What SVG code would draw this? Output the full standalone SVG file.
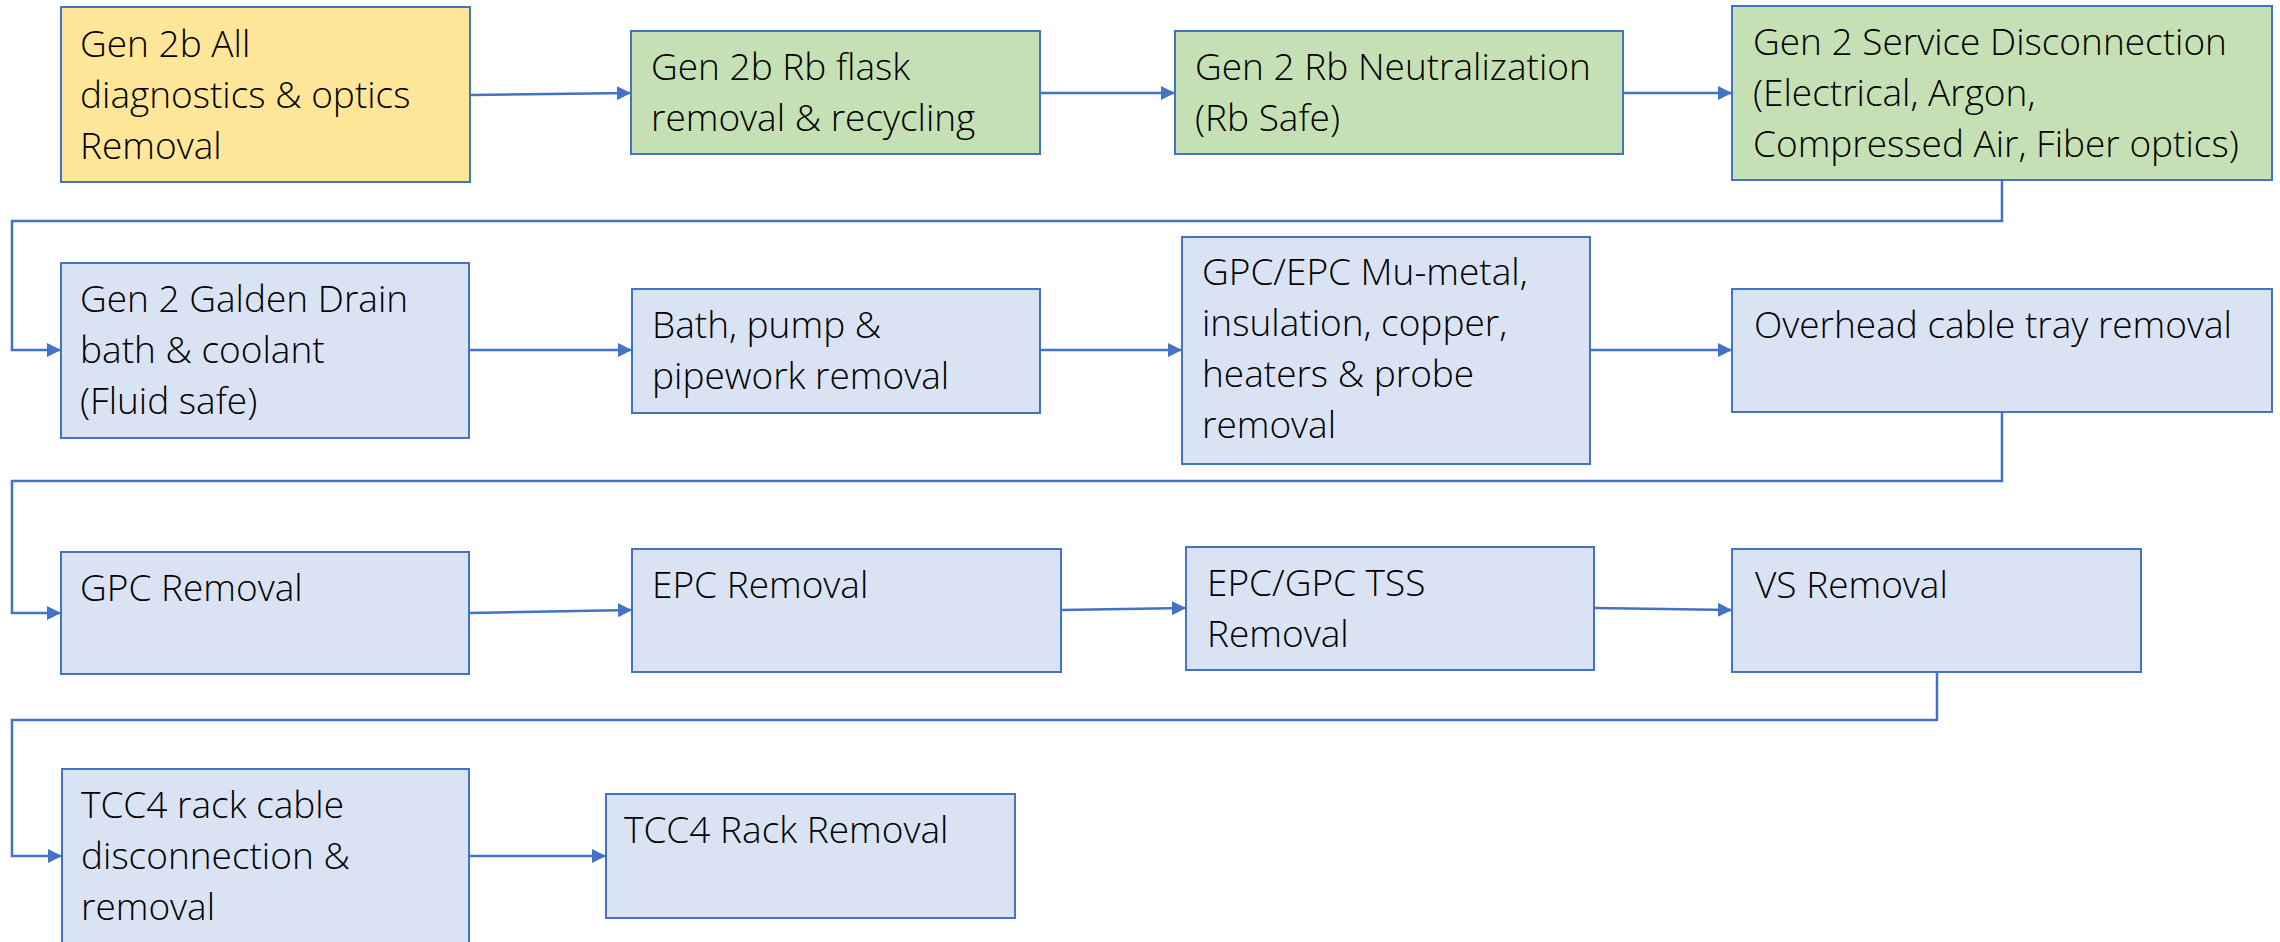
<svg xmlns="http://www.w3.org/2000/svg" width="2280" height="942" viewBox="0 0 2280 942">
<style>
  .box { stroke: #4472C4; stroke-width: 2; }
  .y { fill: #FFE699; }
  .g { fill: #C5E0B4; }
  .b { fill: #DAE3F3; }
  .t { font-family: "Open Sans", "Lato", "Liberation Sans", sans-serif; font-size: 37px; font-weight: 300; fill: #000; }
  .c { fill: none; stroke: #4472C4; stroke-width: 2.5; marker-end: url(#arr); }
</style>
<defs>
  <marker id="arr" markerUnits="userSpaceOnUse" markerWidth="14" markerHeight="14" refX="14" refY="7" orient="auto">
    <path d="M0,0 L14,7 L0,14 z" fill="#4472C4"/>
  </marker>
</defs>
<rect width="2280" height="942" fill="#fff"/>
<g id="connectors">
  <path class="c" d="M470,95 L631,93"/>
  <path class="c" d="M1040,93 L1175,93"/>
  <path class="c" d="M1623,93 L1732,93"/>
  <path class="c" d="M2002,180 V221 H12 V350 H61"/>
  <path class="c" d="M469,350 L632,350"/>
  <path class="c" d="M1040,350 L1182,350"/>
  <path class="c" d="M1590,350 L1732,350"/>
  <path class="c" d="M2002,412 V481 H12 V613 H61"/>
  <path class="c" d="M469,613 L632,610"/>
  <path class="c" d="M1061,610 L1186,608"/>
  <path class="c" d="M1594,608 L1732,610"/>
  <path class="c" d="M1937,672 V720 H12 V856 H62"/>
  <path class="c" d="M469,856 L606,856"/>
</g>
<g id="n1"><rect class="box y" x="61" y="7" width="409" height="175"/>
  <text class="t" x="80" y="57">Gen 2b All</text><text class="t" x="80" y="108">diagnostics &amp; optics</text><text class="t" x="80" y="159">Removal</text></g>
<g id="n2"><rect class="box g" x="631" y="31" width="409" height="123"/>
  <text class="t" x="651" y="80">Gen 2b Rb flask</text><text class="t" x="651" y="131">removal &amp; recycling</text></g>
<g id="n3"><rect class="box g" x="1175" y="31" width="448" height="123"/>
  <text class="t" x="1195" y="80">Gen 2 Rb Neutralization</text><text class="t" x="1195" y="131">(Rb Safe)</text></g>
<g id="n4"><rect class="box g" x="1732" y="6" width="540" height="174"/>
  <text class="t" x="1753" y="55">Gen 2 Service Disconnection</text><text class="t" x="1753" y="106">(Electrical, Argon,</text><text class="t" x="1753" y="157">Compressed Air, Fiber optics)</text></g>
<g id="n5"><rect class="box b" x="61" y="263" width="408" height="175"/>
  <text class="t" x="80" y="312">Gen 2 Galden Drain</text><text class="t" x="80" y="363">bath &amp; coolant</text><text class="t" x="80" y="414">(Fluid safe)</text></g>
<g id="n6"><rect class="box b" x="632" y="289" width="408" height="124"/>
  <text class="t" x="652" y="338">Bath, pump &amp;</text><text class="t" x="652" y="389">pipework removal</text></g>
<g id="n7"><rect class="box b" x="1182" y="237" width="408" height="227"/>
  <text class="t" x="1202" y="285">GPC/EPC Mu-metal,</text><text class="t" x="1202" y="336">insulation, copper,</text><text class="t" x="1202" y="387">heaters &amp; probe</text><text class="t" x="1202" y="438">removal</text></g>
<g id="n8"><rect class="box b" x="1732" y="289" width="540" height="123"/>
  <text class="t" x="1754" y="338">Overhead cable tray removal</text></g>
<g id="n9"><rect class="box b" x="61" y="552" width="408" height="122"/>
  <text class="t" x="80" y="601">GPC Removal</text></g>
<g id="n10"><rect class="box b" x="632" y="549" width="429" height="123"/>
  <text class="t" x="652" y="598">EPC Removal</text></g>
<g id="n11"><rect class="box b" x="1186" y="547" width="408" height="123"/>
  <text class="t" x="1207" y="596">EPC/GPC TSS</text><text class="t" x="1207" y="647">Removal</text></g>
<g id="n12"><rect class="box b" x="1732" y="549" width="409" height="123"/>
  <text class="t" x="1755" y="598">VS Removal</text></g>
<g id="n13"><rect class="box b" x="62" y="769" width="407" height="176"/>
  <text class="t" x="81" y="818">TCC4 rack cable</text><text class="t" x="81" y="869">disconnection &amp;</text><text class="t" x="81" y="920">removal</text></g>
<g id="n14"><rect class="box b" x="606" y="794" width="409" height="124"/>
  <text class="t" x="624" y="843">TCC4 Rack Removal</text></g>
</svg>
